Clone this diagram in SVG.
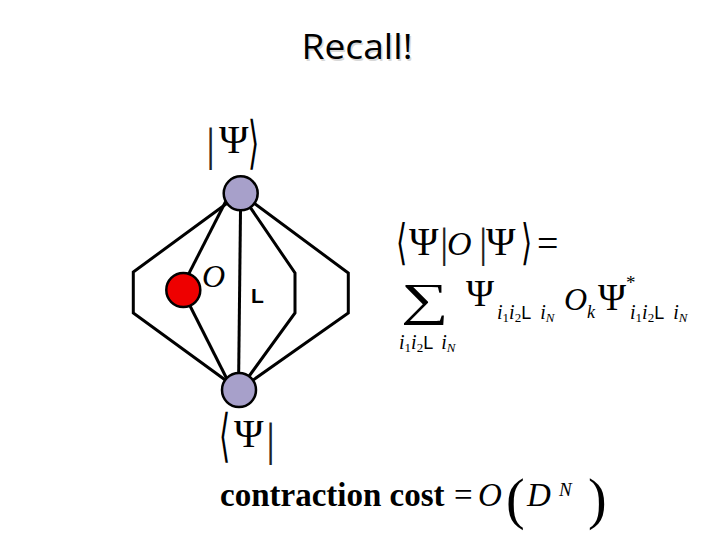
<svg xmlns="http://www.w3.org/2000/svg" width="720" height="540" viewBox="0 0 720 540">
<style>
.ln{fill:none;stroke:#000;stroke-width:3;stroke-linejoin:miter}
.nd{stroke:#000;stroke-width:2.5}
.ser{font-family:"Liberation Serif","DejaVu Serif",serif;fill:#000}
.it{font-style:italic}
.dl{font-family:"DejaVu Sans",sans-serif;fill:#000}
.bar{font-family:"Liberation Serif",serif;fill:#222}
.sans{font-family:"Liberation Sans",Arial,sans-serif;fill:#000}
</style>
<rect width="720" height="540" fill="#fff"/>
<g id="title">
<text x="358.5" y="60.5" text-anchor="middle" font-family="'Open Sans','Liberation Sans',sans-serif" font-size="34" fill="#d8d8d8" textLength="111" lengthAdjust="spacingAndGlyphs">Recall!</text>
<text x="357" y="59" text-anchor="middle" font-family="'Open Sans','Liberation Sans',sans-serif" font-size="34" fill="#000" textLength="111" lengthAdjust="spacingAndGlyphs">Recall!</text>
</g>
<g id="connectors">
<path class="ln" d="M240.7,193.3 L133.3,272 L133.3,313 L239,390"/>
<path class="ln" d="M240.7,193.3 L348.3,273 L348.3,313 L239,390"/>
<path class="ln" d="M240.7,193.3 L295,273 L295,313 L239,390"/>
<path class="ln" d="M240.7,193.3 L238.5,390"/>
<path class="ln" d="M229,195 L181,289"/>
<path class="ln" d="M183,292 L233,391"/>
</g>
<g id="node-top">
<circle class="nd" cx="240.7" cy="193.3" r="17" fill="#a7a0ca"/>
</g>
<g id="node-bottom">
<circle class="nd" cx="239" cy="390" r="17" fill="#a7a0ca"/>
</g>
<g id="node-operator">
<circle class="nd" cx="183.3" cy="290" r="17" fill="#ee0000"/>
<text class="ser it" x="202" y="287" font-size="32">O</text>
</g>
<g id="dots-label">
<text class="sans" x="251" y="303" font-size="21" font-weight="bold">L</text>
</g>
<g id="ket">
<text class="bar" x="206" y="160" font-size="46">|</text>
<text class="ser" x="219" y="153" font-size="40">Ψ</text>
<text class="dl" font-size="44" transform="translate(248,162) scale(0.65,1.3)">⟩</text>
</g>
<g id="bra">
<text class="dl" font-size="44" transform="translate(219,455) scale(0.65,1.3)">⟨</text>
<text class="ser" x="234" y="447" font-size="40">Ψ</text>
<text class="bar" x="266" y="455" font-size="46">|</text>
</g>
<g id="expectation">
<text class="dl" font-size="44" transform="translate(396,259) scale(0.65,1.1)">⟨</text>
<text class="ser" x="409" y="255" font-size="40">Ψ</text>
<text class="bar" x="440" y="257" font-size="42">|</text>
<text class="ser it" x="447" y="255" font-size="34">O</text>
<text class="bar" x="479" y="257" font-size="42">|</text>
<text class="ser" x="486" y="255" font-size="40">Ψ</text>
<text class="dl" font-size="44" transform="translate(521,259) scale(0.65,1.1)">⟩</text>
<text class="ser" x="537" y="256" font-size="38">=</text>
</g>
<g id="sum">
<text class="ser" font-size="46" transform="translate(401,315) scale(1.45,1)">∑</text>
<text class="ser" x="466" y="306" font-size="38">Ψ</text>
<text class="ser it" x="564" y="310" font-size="32">O</text>
<text class="ser it" x="587" y="318" font-size="18">k</text>
<text class="ser" x="598" y="310" font-size="38">Ψ</text>
<text class="ser" x="626" y="289" font-size="19">*</text>
<text x="399" y="349" font-size="20"><tspan class="ser it">i</tspan><tspan class="ser" font-size="13" dy="3">1</tspan><tspan class="ser it" dy="-3">i</tspan><tspan class="ser" font-size="13" dy="3">2</tspan><tspan class="sans" dy="-3" font-size="18">L</tspan><tspan class="ser it" dx="8">i</tspan><tspan class="ser it" font-size="13" dy="3">N</tspan></text>
<text x="497" y="319" font-size="20"><tspan class="ser it">i</tspan><tspan class="ser" font-size="13" dy="3">1</tspan><tspan class="ser it" dy="-3">i</tspan><tspan class="ser" font-size="13" dy="3">2</tspan><tspan class="sans" dy="-3" font-size="18">L</tspan><tspan class="ser it" dx="9">i</tspan><tspan class="ser it" font-size="13" dy="3">N</tspan></text>
<text x="630" y="319" font-size="20"><tspan class="ser it">i</tspan><tspan class="ser" font-size="13" dy="3">1</tspan><tspan class="ser it" dy="-3">i</tspan><tspan class="ser" font-size="13" dy="3">2</tspan><tspan class="sans" dy="-3" font-size="18">L</tspan><tspan class="ser it" dx="9">i</tspan><tspan class="ser it" font-size="13" dy="3">N</tspan></text>
</g>
<g id="cost">
<text class="ser" x="220" y="506" font-size="33" font-weight="bold">contraction cost</text>
<text class="ser" x="454" y="506" font-size="33">=</text>
<text class="ser it" x="478" y="506" font-size="33">O</text>
<text class="ser" x="506" y="518" font-size="56">(</text>
<text class="ser it" x="527" y="506" font-size="33">D</text>
<text class="ser it" x="559" y="496" font-size="19">N</text>
<text class="ser" x="588" y="518" font-size="56">)</text>
</g>
</svg>
